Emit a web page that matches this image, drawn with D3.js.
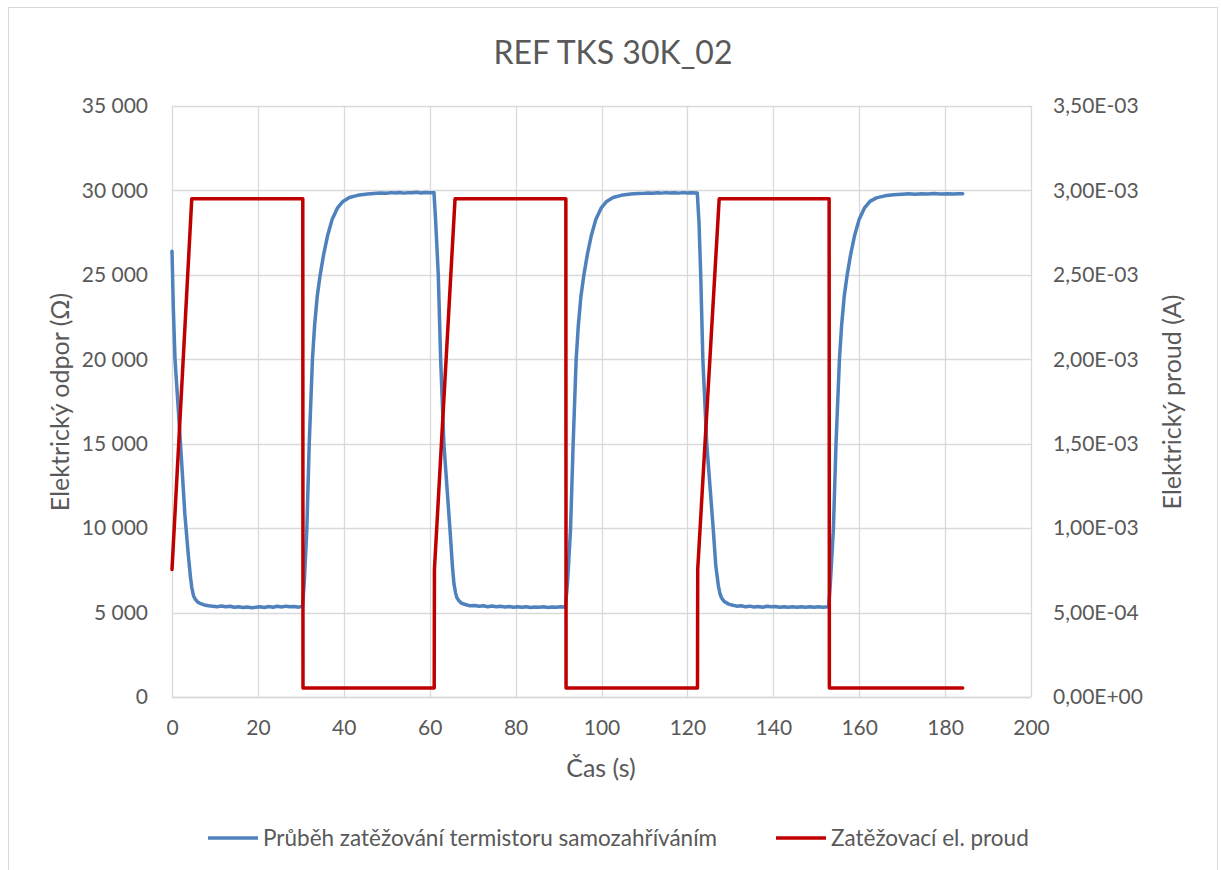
<!DOCTYPE html>
<html>
<head>
<meta charset="utf-8">
<script src="https://cdn.jsdelivr.net/npm/d3@7"></script>
<style>
  body { margin: 0; background: #fff; }
  text { font-family: Lato, "Open Sans", sans-serif; fill: #595959; }
</style>
</head>
<body>
<div id="chart"></div>
<script>
// resistance (Ohm) over time (s)
var odporData = [
  [0, 26400], [0.3, 23100], [0.7, 20000], [1.5, 16900], [2.25, 13900], [3.0, 10800],
  [3.8, 8400], [4.3, 7100], [4.6, 6500], [5.0, 6000], [5.4, 5800], [6.0, 5620],
  [6.5, 5550], [7.5, 5450], [8.5, 5400], [9.5, 5380], [10.5, 5350], [11.5, 5390],
  [12.5, 5340], [13.5, 5370], [14.5, 5320], [15.5, 5340], [16.5, 5300], [17.5, 5330],
  [18.5, 5290], [19.5, 5310], [20.5, 5340], [21.5, 5300], [22.5, 5360], [23.5, 5320],
  [24.5, 5370], [25.5, 5330], [26.5, 5380], [27.5, 5340], [28.5, 5360], [29.5, 5320],
  [30.4, 5380],
  [30.8, 6800], [31.4, 10000], [31.95, 15000], [32.7, 20000], [33.2, 22000], [33.8, 23700],
  [34.5, 25000], [35.3, 26200], [36.2, 27300], [37.3, 28300], [38.5, 28950], [39.8, 29350],
  [41.3, 29580], [43.2, 29710], [45.5, 29790], [47, 29820], [48.5, 29850], [50, 29830],
  [51, 29870], [52, 29850], [53, 29880], [54, 29840], [55, 29870], [56, 29860],
  [57, 29890], [58, 29850], [59, 29880], [60, 29860], [61.0, 29870],
  [61.4, 28100], [62.0, 25000], [62.55, 20000], [63.3, 15000], [64.7, 10000], [65.3, 7700],
  [65.65, 6700], [66.0, 6200], [66.3, 5900], [66.8, 5700], [67.4, 5550], [68.3, 5480],
  [69.4, 5400], [70.5, 5420], [71.5, 5370], [72.5, 5400], [73.5, 5350], [74.5, 5390],
  [75.5, 5340], [76.5, 5370], [77.5, 5330], [78.5, 5360], [79.5, 5320], [80.5, 5350],
  [81.5, 5310], [82.5, 5340], [83.5, 5300], [84.5, 5330], [85.5, 5310], [86.5, 5340],
  [87.5, 5300], [88.5, 5330], [89.5, 5310], [90.5, 5340], [91.6, 5320],
  [92.1, 6800], [92.8, 10000], [93.4, 15000], [94.1, 20000], [94.6, 22000], [95.2, 23700],
  [95.9, 25000], [96.7, 26200], [97.6, 27300], [98.7, 28300], [99.9, 28950], [101.2, 29350],
  [102.7, 29580], [104.6, 29710], [106.8, 29790], [108.5, 29820], [110, 29830], [111, 29850],
  [112, 29830], [113, 29860], [114, 29840], [115, 29870], [116, 29850], [117, 29860],
  [118, 29840], [119, 29870], [120, 29850], [121, 29860], [122.3, 29850],
  [122.7, 28100], [123.1, 25000], [123.6, 20000], [124.5, 15000], [126.0, 10000], [126.6, 7800],
  [127.2, 6600], [127.6, 6100], [128.0, 5850], [128.6, 5650], [129.6, 5500], [130.6, 5430],
  [131.5, 5380], [132.5, 5400], [133.5, 5350], [134.5, 5380], [135.5, 5330], [136.5, 5360],
  [137.5, 5320], [138.5, 5370], [139.5, 5340], [140.5, 5360], [141.5, 5320], [142.5, 5350],
  [143.5, 5310], [144.5, 5340], [145.5, 5320], [146.5, 5350], [147.5, 5310], [148.5, 5340],
  [149.5, 5320], [150.5, 5350], [151.5, 5320], [152.9, 5340],
  [153.3, 6800], [154.0, 10000], [154.6, 15000], [155.4, 20000], [155.9, 22000], [156.5, 23700],
  [157.2, 25000], [158.0, 26200], [158.9, 27300], [160.0, 28300], [161.2, 28950], [162.5, 29350],
  [164.0, 29560], [166, 29680], [168, 29740], [170, 29770], [171.5, 29800], [173, 29780],
  [174.5, 29810], [176, 29790], [177.5, 29820], [179, 29790], [180.5, 29810], [182, 29790],
  [183, 29810], [184.1, 29800]
];

// load current (A) over time (s)
var proudData = [
  [0, 0.000755], [4.6, 0.00295], [30.45, 0.00295], [30.5, 0.000053],
  [61.05, 0.000053], [61.1, 0.000755], [65.9, 0.00295], [91.7, 0.00295],
  [91.75, 0.000053], [122.35, 0.000053], [122.4, 0.000755], [127.4, 0.00295],
  [153.0, 0.00295], [153.05, 0.000053], [184.1, 0.000053]
];

var xTicks = [0, 20, 40, 60, 80, 100, 120, 140, 160, 180, 200];
var yLeftTicks = [0, 5000, 10000, 15000, 20000, 25000, 30000, 35000];
var yRightTicks = [0, 0.0005, 0.001, 0.0015, 0.002, 0.0025, 0.003, 0.0035];

var seriesNames = ["Průběh zatěžování termistoru samozahříváním", "Zatěžovací el. proud"];
var seriesColors = ["#4f81bd", "#c00000"];

var width = 1221;
var height = 870;
var plot = { left: 172, right: 1031, top: 106, bottom: 697 };

var svg = d3.select("#chart")
  .append("svg")
  .attr("width", width)
  .attr("height", height);

// outer border
svg.append("rect")
  .attr("x", 8.5).attr("y", 7.5)
  .attr("width", 1209).attr("height", 880)
  .attr("fill", "#fff")
  .attr("stroke", "#d9d9d9");

var xScale = d3.scaleLinear().domain([0, 200]).range([plot.left, plot.right]);
var yLeft = d3.scaleLinear().domain([0, 35000]).range([plot.bottom, plot.top]);
var yRight = d3.scaleLinear().domain([0, 0.0035]).range([plot.bottom, plot.top]);

function fmtLeft(v) {
  return d3.format(",")(v).replace(/,/g, " ");
}
function fmtRight(v) {
  var s = v.toExponential(2).split("e");
  var exp = parseInt(s[1]);
  var sign = exp < 0 ? "-" : "+";
  var e = Math.abs(exp);
  return s[0].replace(".", ",") + "E" + sign + (e < 10 ? "0" + e : e);
}

// gridlines
var grid = svg.append("g").attr("class", "grid");
grid.selectAll("line.h")
  .data(yLeftTicks)
  .enter()
  .append("line")
  .attr("x1", plot.left).attr("x2", plot.right)
  .attr("y1", function(d) { return Math.round(yLeft(d)) + 0.5; })
  .attr("y2", function(d) { return Math.round(yLeft(d)) + 0.5; })
  .attr("stroke", "#d9d9d9").attr("stroke-width", 1.3);
grid.selectAll("line.v")
  .data(xTicks)
  .enter()
  .append("line")
  .attr("y1", plot.top).attr("y2", plot.bottom)
  .attr("x1", function(d) { return Math.round(xScale(d)) + 0.5; })
  .attr("x2", function(d) { return Math.round(xScale(d)) + 0.5; })
  .attr("stroke", "#d9d9d9").attr("stroke-width", 1.3);

// axes (labels only, Excel style)
var xAxis = d3.axisBottom(xScale).tickValues(xTicks).tickSize(0).tickPadding(23);
var yAxisL = d3.axisLeft(yLeft).tickValues(yLeftTicks).tickSize(0).tickPadding(24).tickFormat(fmtLeft);
var yAxisR = d3.axisRight(yRight).tickValues(yRightTicks).tickSize(0).tickPadding(22).tickFormat(fmtRight);

svg.append("g")
  .attr("class", "xAxis")
  .attr("transform", "translate(0," + plot.bottom + ")")
  .call(xAxis);
svg.append("g")
  .attr("class", "yAxis")
  .attr("transform", "translate(" + plot.left + ",0)")
  .call(yAxisL);
svg.append("g")
  .attr("class", "yAxisR")
  .attr("transform", "translate(" + plot.right + ",0)")
  .call(yAxisR);

svg.selectAll(".xAxis .domain, .yAxis .domain, .yAxisR .domain").remove();
svg.selectAll(".xAxis text, .yAxis text, .yAxisR text")
  .style("font-family", "Lato, sans-serif")
  .style("font-size", "21px")
  .attr("fill", "#595959");

// bottom axis line
svg.append("line")
  .attr("x1", plot.left).attr("x2", plot.right)
  .attr("y1", plot.bottom + 0.5).attr("y2", plot.bottom + 0.5)
  .attr("stroke", "#d9d9d9").attr("stroke-width", 1.5);

// series lines
var lineLeft = d3.line()
  .x(function(d) { return xScale(d[0]); })
  .y(function(d) { return yLeft(d[1]); });
var lineRight = d3.line()
  .x(function(d) { return xScale(d[0]); })
  .y(function(d) { return yRight(d[1]); });

svg.append("path")
  .datum(odporData)
  .attr("d", lineLeft)
  .attr("fill", "none")
  .attr("stroke", seriesColors[0])
  .attr("stroke-width", 3.5)
  .attr("stroke-linejoin", "round")
  .attr("stroke-linecap", "round");

svg.append("path")
  .datum(proudData)
  .attr("d", lineRight)
  .attr("fill", "none")
  .attr("stroke", seriesColors[1])
  .attr("stroke-width", 3.5)
  .attr("stroke-linejoin", "round")
  .attr("stroke-linecap", "round");

// title
svg.append("text")
  .attr("x", 613)
  .attr("y", 64)
  .attr("text-anchor", "middle")
  .style("font-size", "32px")
  .text("REF TKS 30K_02");

// axis titles
svg.append("text")
  .attr("x", 601)
  .attr("y", 777)
  .attr("text-anchor", "middle")
  .style("font-size", "25px")
  .text("Čas (s)");

svg.append("text")
  .attr("transform", "translate(69,402)rotate(-90)")
  .attr("text-anchor", "middle")
  .style("font-size", "25px")
  .text("Elektrický odpor (Ω)");

svg.append("text")
  .attr("transform", "translate(1181,402)rotate(-90)")
  .attr("text-anchor", "middle")
  .style("font-size", "25px")
  .text("Elektrický proud (A)");

// legend
var legendX = [208, 776];
var legend = svg.append("g").attr("class", "legend");
seriesNames.forEach(function(name, i) {
  legend.append("line")
    .attr("x1", legendX[i]).attr("x2", legendX[i] + 50)
    .attr("y1", 838).attr("y2", 838)
    .attr("stroke", seriesColors[i])
    .attr("stroke-width", 3.5);
  legend.append("text")
    .attr("x", legendX[i] + 55)
    .attr("y", 846)
    .style("font-size", "22.5px")
    .text(name);
});
</script>
</body>
</html>
